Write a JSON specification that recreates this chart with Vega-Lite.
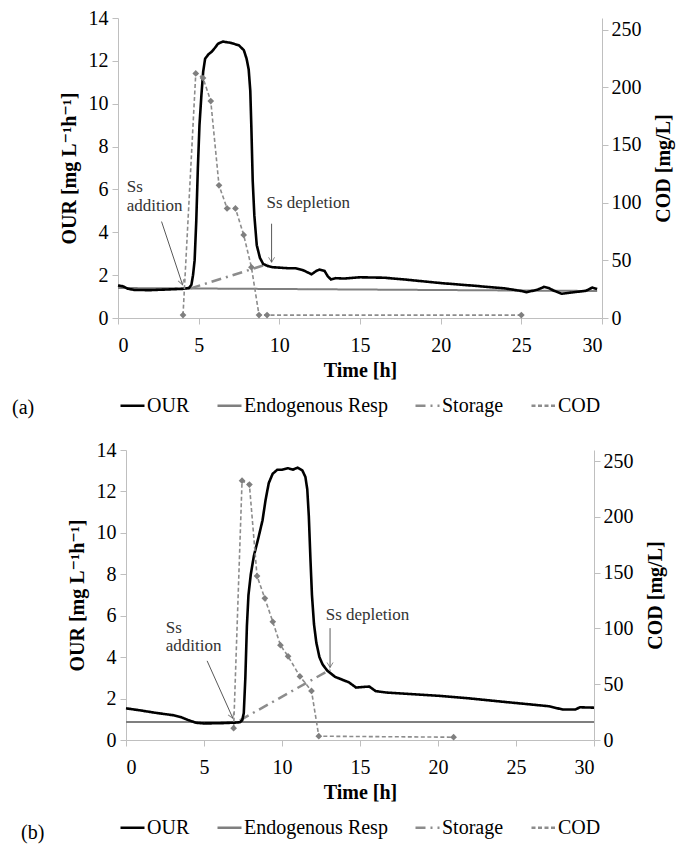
{
  "$schema": "https://vega.github.io/schema/vega-lite/v6.json",
  "padding": {"left": 12, "top": 8, "right": 5, "bottom": 5},
  "background": "white",
  "config": {
    "font": "Liberation Serif, Times New Roman, DejaVu Serif, serif",
    "view": {"stroke": null},
    "axis": {"grid": false, "domainColor": "#bfbfbf", "tickColor": "#bfbfbf", "tickSize": 6,
      "labelFont": "Liberation Serif, DejaVu Serif, serif", "labelFontSize": 20, "labelColor": "black",
      "titleFont": "Liberation Serif, DejaVu Serif, serif", "titleFontSize": 20, "titleFontWeight": "bold", "titleColor": "black"},
    "legend": {"orient": "bottom", "direction": "horizontal", "labelFont": "Liberation Serif, DejaVu Serif, serif", "labelFontSize": 20,
      "labelColor": "black", "symbolType": "stroke", "symbolSize": 576, "symbolStrokeWidth": 2.5,
      "columnPadding": 22, "labelOffset": 1, "offset": 12, "padding": 0,
      "layout": {"bottom": {"anchor": "middle"}}},
    "title": {"font": "Liberation Serif, DejaVu Serif, serif", "fontSize": 20, "fontWeight": "normal", "color": "black"}
  },
  "datasets": {
    "a": [
      {"s": "OUR", "t": 0, "v": 1.52}, {"s": "OUR", "t": 0.3, "v": 1.48}, {"s": "OUR", "t": 0.6, "v": 1.37},
      {"s": "OUR", "t": 1, "v": 1.31}, {"s": "OUR", "t": 2, "v": 1.3}, {"s": "OUR", "t": 3, "v": 1.33},
      {"s": "OUR", "t": 4, "v": 1.36}, {"s": "OUR", "t": 4.4, "v": 1.4}, {"s": "OUR", "t": 4.55, "v": 1.55},
      {"s": "OUR", "t": 4.65, "v": 2.0}, {"s": "OUR", "t": 4.75, "v": 2.7}, {"s": "OUR", "t": 4.85, "v": 4.5},
      {"s": "OUR", "t": 4.95, "v": 7.0}, {"s": "OUR", "t": 5.05, "v": 9.0}, {"s": "OUR", "t": 5.17, "v": 10.4},
      {"s": "OUR", "t": 5.28, "v": 11.5}, {"s": "OUR", "t": 5.4, "v": 12.1}, {"s": "OUR", "t": 5.6, "v": 12.3},
      {"s": "OUR", "t": 5.8, "v": 12.42}, {"s": "OUR", "t": 6.0, "v": 12.6}, {"s": "OUR", "t": 6.2, "v": 12.8},
      {"s": "OUR", "t": 6.5, "v": 12.9}, {"s": "OUR", "t": 7.0, "v": 12.84}, {"s": "OUR", "t": 7.5, "v": 12.72},
      {"s": "OUR", "t": 7.8, "v": 12.5}, {"s": "OUR", "t": 7.97, "v": 12.1}, {"s": "OUR", "t": 8.1, "v": 11.6},
      {"s": "OUR", "t": 8.2, "v": 10.6}, {"s": "OUR", "t": 8.27, "v": 8.8}, {"s": "OUR", "t": 8.35, "v": 6.4},
      {"s": "OUR", "t": 8.45, "v": 4.8}, {"s": "OUR", "t": 8.6, "v": 3.4}, {"s": "OUR", "t": 8.8, "v": 2.8},
      {"s": "OUR", "t": 9.0, "v": 2.52}, {"s": "OUR", "t": 9.3, "v": 2.42}, {"s": "OUR", "t": 9.6, "v": 2.37},
      {"s": "OUR", "t": 10, "v": 2.35}, {"s": "OUR", "t": 10.6, "v": 2.32}, {"s": "OUR", "t": 11.0, "v": 2.32},
      {"s": "OUR", "t": 11.5, "v": 2.22}, {"s": "OUR", "t": 12.0, "v": 2.04}, {"s": "OUR", "t": 12.3, "v": 2.2},
      {"s": "OUR", "t": 12.5, "v": 2.26}, {"s": "OUR", "t": 12.8, "v": 2.2}, {"s": "OUR", "t": 13.0, "v": 1.95},
      {"s": "OUR", "t": 13.2, "v": 1.8}, {"s": "OUR", "t": 13.5, "v": 1.86}, {"s": "OUR", "t": 14, "v": 1.84},
      {"s": "OUR", "t": 15, "v": 1.9}, {"s": "OUR", "t": 16.5, "v": 1.88}, {"s": "OUR", "t": 18, "v": 1.78},
      {"s": "OUR", "t": 20, "v": 1.63}, {"s": "OUR", "t": 22, "v": 1.51}, {"s": "OUR", "t": 24, "v": 1.38},
      {"s": "OUR", "t": 25, "v": 1.26}, {"s": "OUR", "t": 25.3, "v": 1.2}, {"s": "OUR", "t": 26, "v": 1.32},
      {"s": "OUR", "t": 26.4, "v": 1.45}, {"s": "OUR", "t": 26.7, "v": 1.4}, {"s": "OUR", "t": 27, "v": 1.28},
      {"s": "OUR", "t": 27.5, "v": 1.13}, {"s": "OUR", "t": 28, "v": 1.18}, {"s": "OUR", "t": 29, "v": 1.27},
      {"s": "OUR", "t": 29.4, "v": 1.42}, {"s": "OUR", "t": 29.7, "v": 1.35},
      {"s": "Endogenous Resp", "t": 0, "v": 1.4}, {"s": "Endogenous Resp", "t": 29.7, "v": 1.26},
      {"s": "Storage", "t": 4.5, "v": 1.38}, {"s": "Storage", "t": 9.3, "v": 2.52},
      {"s": "COD", "t": 4.03, "v": 2.5}, {"s": "COD", "t": 4.82, "v": 212}, {"s": "COD", "t": 5.27, "v": 208},
      {"s": "COD", "t": 5.75, "v": 188}, {"s": "COD", "t": 6.26, "v": 115}, {"s": "COD", "t": 6.76, "v": 95},
      {"s": "COD", "t": 7.28, "v": 95}, {"s": "COD", "t": 7.79, "v": 72}, {"s": "COD", "t": 8.27, "v": 44},
      {"s": "COD", "t": 8.74, "v": 2.5}, {"s": "COD", "t": 9.24, "v": 2.5}, {"s": "COD", "t": 25, "v": 2.5}
    ],
    "b": [
      {"s": "OUR", "t": 0, "v": 1.53}, {"s": "OUR", "t": 1, "v": 1.42}, {"s": "OUR", "t": 2, "v": 1.3},
      {"s": "OUR", "t": 3, "v": 1.2}, {"s": "OUR", "t": 3.5, "v": 1.11}, {"s": "OUR", "t": 4, "v": 0.96},
      {"s": "OUR", "t": 4.5, "v": 0.83}, {"s": "OUR", "t": 5, "v": 0.8}, {"s": "OUR", "t": 6, "v": 0.81},
      {"s": "OUR", "t": 7, "v": 0.84}, {"s": "OUR", "t": 7.3, "v": 0.86}, {"s": "OUR", "t": 7.45, "v": 0.95},
      {"s": "OUR", "t": 7.55, "v": 1.3}, {"s": "OUR", "t": 7.65, "v": 3.0}, {"s": "OUR", "t": 7.75, "v": 5.5},
      {"s": "OUR", "t": 7.85, "v": 7.0}, {"s": "OUR", "t": 8.0, "v": 8.0}, {"s": "OUR", "t": 8.2, "v": 8.9},
      {"s": "OUR", "t": 8.5, "v": 9.8}, {"s": "OUR", "t": 8.75, "v": 10.6}, {"s": "OUR", "t": 8.95, "v": 11.6},
      {"s": "OUR", "t": 9.15, "v": 12.4}, {"s": "OUR", "t": 9.4, "v": 12.85}, {"s": "OUR", "t": 9.7, "v": 13.05},
      {"s": "OUR", "t": 10.0, "v": 13.05}, {"s": "OUR", "t": 10.4, "v": 13.12}, {"s": "OUR", "t": 10.7, "v": 13.05},
      {"s": "OUR", "t": 11.0, "v": 13.15}, {"s": "OUR", "t": 11.3, "v": 13.02}, {"s": "OUR", "t": 11.5, "v": 12.7},
      {"s": "OUR", "t": 11.62, "v": 12.1}, {"s": "OUR", "t": 11.72, "v": 10.8}, {"s": "OUR", "t": 11.82, "v": 8.8},
      {"s": "OUR", "t": 11.92, "v": 7.0}, {"s": "OUR", "t": 12.05, "v": 5.6}, {"s": "OUR", "t": 12.2, "v": 4.7},
      {"s": "OUR", "t": 12.4, "v": 4.0}, {"s": "OUR", "t": 12.6, "v": 3.65}, {"s": "OUR", "t": 12.9, "v": 3.35},
      {"s": "OUR", "t": 13.4, "v": 3.05}, {"s": "OUR", "t": 13.9, "v": 2.9}, {"s": "OUR", "t": 14.3, "v": 2.78},
      {"s": "OUR", "t": 14.75, "v": 2.53}, {"s": "OUR", "t": 15.2, "v": 2.56}, {"s": "OUR", "t": 15.6, "v": 2.58},
      {"s": "OUR", "t": 16.0, "v": 2.36}, {"s": "OUR", "t": 16.7, "v": 2.29}, {"s": "OUR", "t": 18.4, "v": 2.21},
      {"s": "OUR", "t": 20.1, "v": 2.13}, {"s": "OUR", "t": 22, "v": 2.01}, {"s": "OUR", "t": 24.1, "v": 1.85},
      {"s": "OUR", "t": 26.3, "v": 1.69}, {"s": "OUR", "t": 27.1, "v": 1.63}, {"s": "OUR", "t": 28, "v": 1.47},
      {"s": "OUR", "t": 28.8, "v": 1.47}, {"s": "OUR", "t": 29.1, "v": 1.58}, {"s": "OUR", "t": 30, "v": 1.56},
      {"s": "Endogenous Resp", "t": 0, "v": 0.87}, {"s": "Endogenous Resp", "t": 30, "v": 0.87},
      {"s": "Storage", "t": 7.3, "v": 0.95}, {"s": "Storage", "t": 13.1, "v": 3.4},
      {"s": "COD", "t": 6.9, "v": 10.6}, {"s": "COD", "t": 7.44, "v": 232.5}, {"s": "COD", "t": 7.91, "v": 229},
      {"s": "COD", "t": 8.4, "v": 147}, {"s": "COD", "t": 8.9, "v": 127}, {"s": "COD", "t": 9.41, "v": 106},
      {"s": "COD", "t": 9.9, "v": 85}, {"s": "COD", "t": 10.39, "v": 75}, {"s": "COD", "t": 11.15, "v": 57},
      {"s": "COD", "t": 11.89, "v": 44}, {"s": "COD", "t": 12.36, "v": 3.4}, {"s": "COD", "t": 21, "v": 2.5}
    ],
    "a_text": [
      {"t": 0.54, "v": 6.11, "label": "Ss"}, {"t": 0.54, "v": 5.23, "label": "addition"},
      {"t": 9.2, "v": 5.35, "label": "Ss depletion"}
    ],
    "b_text": [
      {"t": 2.55, "v": 5.41, "label": "Ss"}, {"t": 2.55, "v": 4.54, "label": "addition"},
      {"t": 12.8, "v": 6.05, "label": "Ss depletion"}
    ],
    "a_arrow": [
      {"k": "add", "t": 2.7, "v": 4.5, "t2": 4.0, "v2": 1.55},
      {"k": "dep", "t": 9.52, "v": 4.4, "t2": 9.52, "v2": 2.6}
    ],
    "b_arrow": [
      {"k": "add", "t": 5.2, "v": 3.82, "t2": 6.85, "v2": 1.05},
      {"k": "dep", "t": 13.08, "v": 5.4, "t2": 13.08, "v2": 3.5}
    ]
  },
  "resolve": {"scale": {"color": "independent", "strokeDash": "independent"}},
  "center": true,
  "spacing": 22,
  "vconcat": [
    {
      "width": 484, "height": 300,
      "title": {"text": "(a)", "orient": "bottom", "anchor": "start", "frame": "group", "dx": -106, "dy": -22},
      "layer": [
        {
          "layer": [
            {
              "data": {"name": "a"}, "transform": [{"filter": "datum.s === 'Endogenous Resp'"}],
              "mark": {"type": "line", "strokeWidth": 2},
              "encoding": {
                "x": {"field": "t", "type": "quantitative", "scale": {"domain": [0, 30]}, "axis": {"title": "Time [h]", "values": [0, 5, 10, 15, 20, 25, 30], "labelPadding": 11, "titlePadding": 5}},
                "y": {"field": "v", "type": "quantitative", "scale": {"domain": [0, 14]}, "axis": {"title": "OUR [mg L⁻¹h⁻¹]", "values": [0, 2, 4, 6, 8, 10, 12, 14], "labelPadding": 4, "titlePadding": 9}},
                "color": {"field": "s", "type": "nominal", "scale": {"domain": ["OUR", "Endogenous Resp", "Storage", "COD"], "range": ["#000000", "#7f7f7f", "#8c8c8c", "#8c8c8c"]}, "legend": {"title": null}},
                "strokeDash": {"field": "s", "type": "nominal", "scale": {"domain": ["OUR", "Endogenous Resp", "Storage", "COD"], "range": [[1, 0], [1, 0], [10, 5, 2, 5], [4, 2.5]]}, "legend": {"title": null}}
              }
            },
            {
              "data": {"name": "a"}, "transform": [{"filter": "datum.s === 'Storage'"}],
              "mark": {"type": "line", "strokeWidth": 2.5},
              "encoding": {
                "x": {"field": "t", "type": "quantitative"},
                "y": {"field": "v", "type": "quantitative"},
                "color": {"field": "s", "type": "nominal"},
                "strokeDash": {"field": "s", "type": "nominal"}
              }
            },
            {
              "data": {"name": "a"}, "transform": [{"filter": "datum.s === 'OUR'"}],
              "mark": {"type": "line", "strokeWidth": 2.6},
              "encoding": {
                "x": {"field": "t", "type": "quantitative"},
                "y": {"field": "v", "type": "quantitative"},
                "color": {"field": "s", "type": "nominal"},
                "strokeDash": {"field": "s", "type": "nominal"}
              }
            },
            {
              "data": {"name": "a_arrow"},
              "mark": {"type": "rule", "color": "#595959", "strokeWidth": 1},
              "encoding": {
                "x": {"field": "t", "type": "quantitative"}, "y": {"field": "v", "type": "quantitative"},
                "x2": {"field": "t2"}, "y2": {"field": "v2"}
              }
            },
            {
              "data": {"name": "a_arrow"}, "transform": [{"filter": "datum.k === 'add'"}],
              "mark": {"type": "point", "shape": "M-0.6,-1L0,0L0.6,-1", "filled": false, "color": "#595959", "strokeWidth": 1, "size": 100, "angle": -18},
              "encoding": {"x": {"field": "t2", "type": "quantitative"}, "y": {"field": "v2", "type": "quantitative"}}
            },
            {
              "data": {"name": "a_arrow"}, "transform": [{"filter": "datum.k === 'dep'"}],
              "mark": {"type": "point", "shape": "M-0.6,-1L0,0L0.6,-1", "filled": false, "color": "#595959", "strokeWidth": 1, "size": 100, "angle": 0},
              "encoding": {"x": {"field": "t2", "type": "quantitative"}, "y": {"field": "v2", "type": "quantitative"}}
            },
            {
              "data": {"name": "a_text"},
              "mark": {"type": "text", "align": "left", "baseline": "middle", "fontSize": 17, "font": "Liberation Serif, DejaVu Serif, serif", "color": "#333333"},
              "encoding": {"x": {"field": "t", "type": "quantitative"}, "y": {"field": "v", "type": "quantitative"}, "text": {"field": "label"}}
            }
          ]
        },
        {
          "layer": [
            {
              "data": {"name": "a"}, "transform": [{"filter": "datum.s === 'COD'"}],
              "mark": {"type": "line", "strokeWidth": 1.6},
              "encoding": {
                "x": {"field": "t", "type": "quantitative"},
                "y": {"field": "v", "type": "quantitative", "scale": {"domain": [0, 250]}, "axis": {"orient": "right", "title": "COD [mg/L]", "values": [0, 50, 100, 150, 200, 250], "labelPadding": 3, "titlePadding": 12, "titleAngle": 270, "titleBaseline": "top"}},
                "color": {"field": "s", "type": "nominal"},
                "strokeDash": {"field": "s", "type": "nominal"}
              }
            },
            {
              "data": {"name": "a"}, "transform": [{"filter": "datum.s === 'COD'"}],
              "mark": {"type": "point", "shape": "diamond", "filled": true, "color": "#7f7f7f", "size": 45, "opacity": 1},
              "encoding": {
                "x": {"field": "t", "type": "quantitative"},
                "y": {"field": "v", "type": "quantitative"}
              }
            }
          ]
        }
      ],
      "resolve": {"scale": {"y": "independent"}}
    },
    {
      "width": 468, "height": 290,
      "title": {"text": "(b)", "orient": "bottom", "anchor": "start", "frame": "group", "dx": -105, "dy": -19},
      "layer": [
        {
          "layer": [
            {
              "data": {"name": "b"}, "transform": [{"filter": "datum.s === 'Endogenous Resp'"}],
              "mark": {"type": "line", "strokeWidth": 2},
              "encoding": {
                "x": {"field": "t", "type": "quantitative", "scale": {"domain": [0, 30]}, "axis": {"title": "Time [h]", "values": [0, 5, 10, 15, 20, 25, 30], "labelPadding": 11, "titlePadding": 5}},
                "y": {"field": "v", "type": "quantitative", "scale": {"domain": [0, 14]}, "axis": {"title": "OUR [mg L⁻¹h⁻¹]", "values": [0, 2, 4, 6, 8, 10, 12, 14], "labelPadding": 4, "titlePadding": 9}},
                "color": {"field": "s", "type": "nominal", "scale": {"domain": ["OUR", "Endogenous Resp", "Storage", "COD"], "range": ["#000000", "#7f7f7f", "#8c8c8c", "#8c8c8c"]}, "legend": {"title": null}},
                "strokeDash": {"field": "s", "type": "nominal", "scale": {"domain": ["OUR", "Endogenous Resp", "Storage", "COD"], "range": [[1, 0], [1, 0], [10, 5, 2, 5], [4, 2.5]]}, "legend": {"title": null}}
              }
            },
            {
              "data": {"name": "b"}, "transform": [{"filter": "datum.s === 'Storage'"}],
              "mark": {"type": "line", "strokeWidth": 2.5},
              "encoding": {
                "x": {"field": "t", "type": "quantitative"},
                "y": {"field": "v", "type": "quantitative"},
                "color": {"field": "s", "type": "nominal"},
                "strokeDash": {"field": "s", "type": "nominal"}
              }
            },
            {
              "data": {"name": "b"}, "transform": [{"filter": "datum.s === 'OUR'"}],
              "mark": {"type": "line", "strokeWidth": 2.6},
              "encoding": {
                "x": {"field": "t", "type": "quantitative"},
                "y": {"field": "v", "type": "quantitative"},
                "color": {"field": "s", "type": "nominal"},
                "strokeDash": {"field": "s", "type": "nominal"}
              }
            },
            {
              "data": {"name": "b_arrow"},
              "mark": {"type": "rule", "color": "#595959", "strokeWidth": 1},
              "encoding": {
                "x": {"field": "t", "type": "quantitative"}, "y": {"field": "v", "type": "quantitative"},
                "x2": {"field": "t2"}, "y2": {"field": "v2"}
              }
            },
            {
              "data": {"name": "b_arrow"}, "transform": [{"filter": "datum.k === 'add'"}],
              "mark": {"type": "point", "shape": "M-0.6,-1L0,0L0.6,-1", "filled": false, "color": "#595959", "strokeWidth": 1, "size": 100, "angle": -24},
              "encoding": {"x": {"field": "t2", "type": "quantitative"}, "y": {"field": "v2", "type": "quantitative"}}
            },
            {
              "data": {"name": "b_arrow"}, "transform": [{"filter": "datum.k === 'dep'"}],
              "mark": {"type": "point", "shape": "M-0.6,-1L0,0L0.6,-1", "filled": false, "color": "#595959", "strokeWidth": 1, "size": 100, "angle": 0},
              "encoding": {"x": {"field": "t2", "type": "quantitative"}, "y": {"field": "v2", "type": "quantitative"}}
            },
            {
              "data": {"name": "b_text"},
              "mark": {"type": "text", "align": "left", "baseline": "middle", "fontSize": 17, "font": "Liberation Serif, DejaVu Serif, serif", "color": "#333333"},
              "encoding": {"x": {"field": "t", "type": "quantitative"}, "y": {"field": "v", "type": "quantitative"}, "text": {"field": "label"}}
            }
          ]
        },
        {
          "layer": [
            {
              "data": {"name": "b"}, "transform": [{"filter": "datum.s === 'COD'"}],
              "mark": {"type": "line", "strokeWidth": 1.6},
              "encoding": {
                "x": {"field": "t", "type": "quantitative"},
                "y": {"field": "v", "type": "quantitative", "scale": {"domain": [0, 250]}, "axis": {"orient": "right", "title": "COD [mg/L]", "values": [0, 50, 100, 150, 200, 250], "labelPadding": 3, "titlePadding": 12, "titleAngle": 270, "titleBaseline": "top"}},
                "color": {"field": "s", "type": "nominal"},
                "strokeDash": {"field": "s", "type": "nominal"}
              }
            },
            {
              "data": {"name": "b"}, "transform": [{"filter": "datum.s === 'COD'"}],
              "mark": {"type": "point", "shape": "diamond", "filled": true, "color": "#7f7f7f", "size": 45, "opacity": 1},
              "encoding": {
                "x": {"field": "t", "type": "quantitative"},
                "y": {"field": "v", "type": "quantitative"}
              }
            }
          ]
        }
      ],
      "resolve": {"scale": {"y": "independent"}}
    }
  ]
}
